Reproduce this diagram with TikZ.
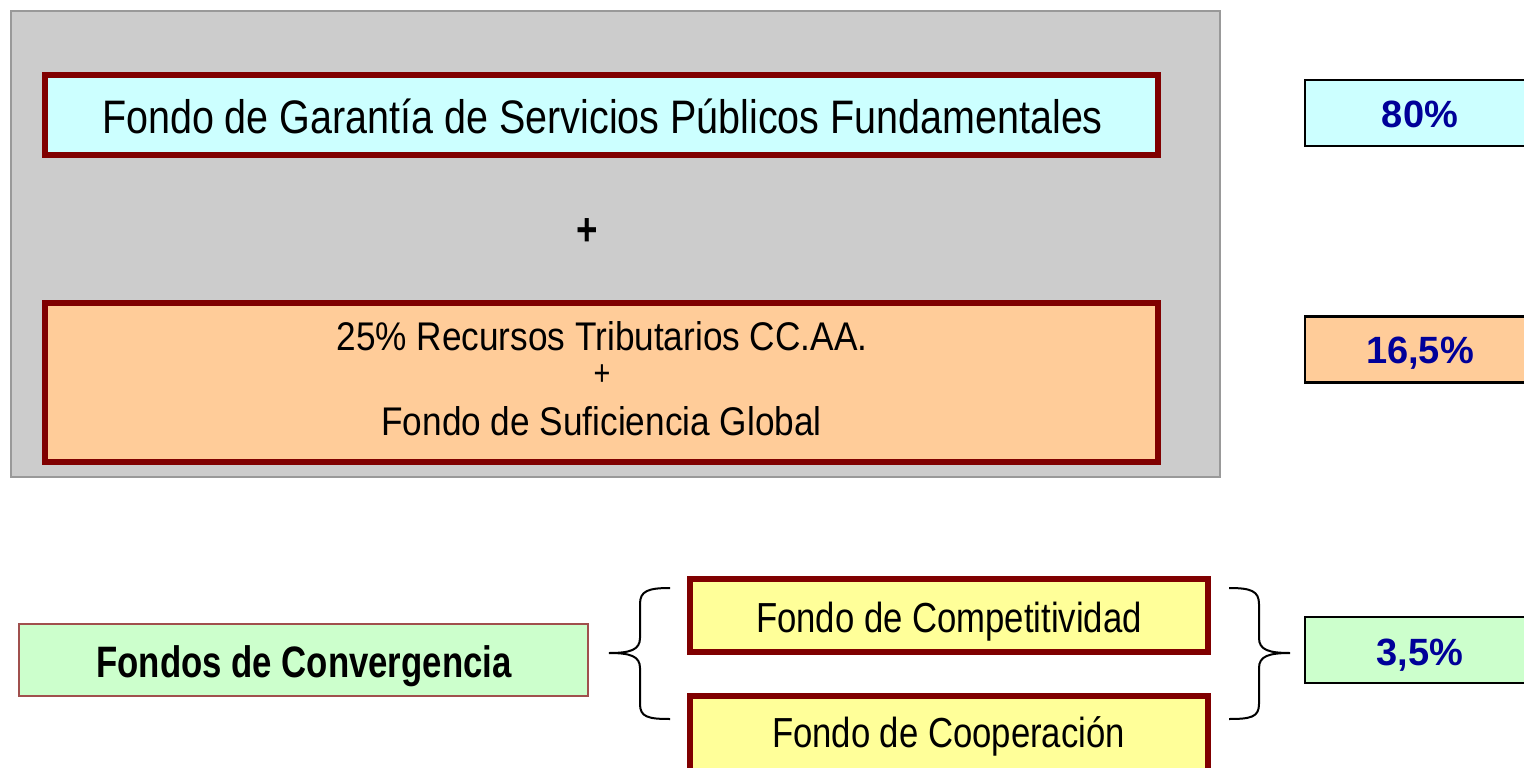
\documentclass[tikz,border=0pt]{standalone}
\usepackage{fontspec}
\setmainfont{Liberation Sans}
\newfontfamily\narrow[FakeStretch=0.8]{Liberation Sans}
\newfontfamily\narrowA[FakeStretch=0.84]{Liberation Sans}
\newfontfamily\narrowB[FakeStretch=0.88]{Liberation Sans}
\newfontfamily\narrowC[FakeStretch=0.826]{Liberation Sans}
\newfontfamily\narrowD[FakeStretch=0.79]{Liberation Sans}
\newfontfamily\pct{Liberation Sans}
\definecolor{dred}{HTML}{800000}
\definecolor{cyanf}{HTML}{CCFFFF}
\definecolor{orangef}{HTML}{FFCC99}
\definecolor{yellowf}{HTML}{FFFF99}
\definecolor{greenf}{HTML}{CCFFCC}
\definecolor{grayf}{HTML}{CCCCCC}
\definecolor{grayb}{HTML}{999999}
\definecolor{pctblue}{HTML}{000099}
\definecolor{thinred}{HTML}{A0504D}
\tikzset{
  fundbox/.style={draw=dred, line width=6pt, inner sep=0pt, outer sep=0pt},
  pctbox/.style={draw=black, line width=2.5pt, inner sep=0pt, outer sep=0pt, minimum width=235pt, minimum height=66pt},
  pcttext/.style={anchor=base, inner sep=0pt, text=pctblue, font=\pct\fontsize{38}{42}\selectfont\bfseries},
  basetext/.style={anchor=base, inner sep=0pt},
  bracepath/.style={draw=black, line width=2pt}
}
\begin{document}
\begin{tikzpicture}[x=1pt,y=-1pt]
\useasboundingbox (0,0) rectangle (1524,768);
% grey panel
\node[draw=grayb, fill=grayf, line width=1.5pt, minimum width=1209pt, minimum height=466pt, inner sep=0pt] (panel) at (615.5,244) {};
% fund boxes
\node[fundbox, fill=cyanf, minimum width=1113pt, minimum height=80pt] (garantia) at (601.5,115) {};
\node[basetext, font=\narrowA\fontsize{47}{50}\selectfont] (garantiatxt) at (602.5,133) {Fondo de Garantía de Servicios Públicos Fundamentales};
\node[inner sep=0pt, font=\narrow\fontsize{46}{50}\selectfont\bfseries] (plus) at (587.5,232) {+};
\node[fundbox, fill=orangef, minimum width=1113pt, minimum height=159pt] (recursos) at (601.5,382.5) {};
\node[basetext, font=\narrowB\fontsize{40}{44}\selectfont] (rt) at (602,350) {25\% Recursos Tributarios CC.AA.};
\node[inner sep=0pt, font=\narrow\fontsize{36}{40}\selectfont] (rplus) at (602,375) {+};
\node[basetext, font=\narrowB\fontsize{40}{44}\selectfont] (fsg) at (601.5,435) {Fondo de Suficiencia Global};
% percentage boxes
\node[pctbox, fill=cyanf] (p80) at (1422.5,113) {};
\node[pcttext] (p80t) at (1420,127) {80\%};
\node[pctbox, fill=orangef] (p165) at (1422.5,349.5) {};
\node[pcttext] (p165t) at (1420,363) {16,5\%};
\node[pctbox, fill=greenf] (p35) at (1422.5,650) {};
\node[pcttext] (p35t) at (1420,665) {3,5\%};
% convergence
\node[draw=thinred, fill=greenf, line width=1.5pt, minimum width=569pt, minimum height=72pt, inner sep=0pt] (conv) at (303.5,660) {};
\node[basetext, font=\narrowD\fontsize{44}{48}\selectfont\bfseries] (convt) at (304,677) {Fondos de Convergencia};
\node[fundbox, fill=yellowf, minimum width=518pt, minimum height=73pt] (compet) at (949,615.5) {};
\node[basetext, font=\narrowC\fontsize{42}{46}\selectfont] (compett) at (949,632) {Fondo de Competitividad};
\node[fundbox, fill=yellowf, minimum width=518pt, minimum height=80pt] (coop) at (949,736) {};
\node[basetext, font=\narrowC\fontsize{42}{46}\selectfont] (coopt) at (948.5,747) {Fondo de Cooperación};
% braces
\draw[bracepath] (670,588) .. controls (648,588) and (640,591) .. (640,604) -- (640,638) .. controls (640,650) and (630,653) .. (609,653) .. controls (630,653) and (640,656) .. (640,668) -- (640,704) .. controls (640,717) and (648,719) .. (670,719);
\draw[bracepath] (1229,588) .. controls (1251,588) and (1259,591) .. (1259,604) -- (1259,638) .. controls (1259,650) and (1269,653) .. (1290,653) .. controls (1269,653) and (1259,656) .. (1259,668) -- (1259,704) .. controls (1259,717) and (1251,719) .. (1229,719);
\end{tikzpicture}
\end{document}
